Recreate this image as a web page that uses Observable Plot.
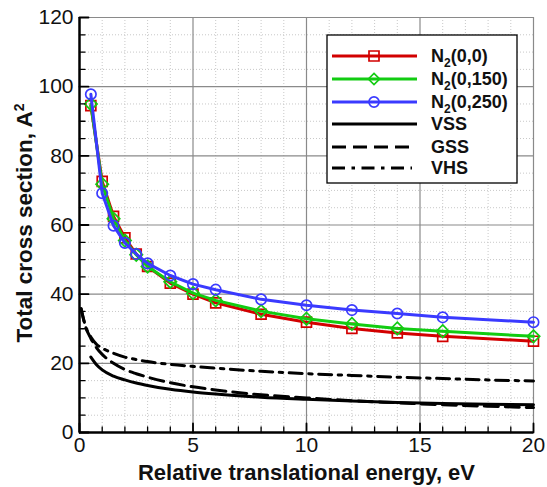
<!DOCTYPE html>
<html>
<head>
<meta charset="utf-8">
<script src="https://cdn.jsdelivr.net/npm/d3@7"></script>
<script src="https://cdn.jsdelivr.net/npm/@observablehq/plot@0.6"></script>
<style>
  body { margin: 0; background: #fff; }
  #wrap { position: relative; width: 547px; height: 487px; }
  #legend { position: absolute; left: 0; top: 0; pointer-events: none; }
</style>
</head>
<body>
<div id="wrap"></div>
<script>
// ---------------- data ----------------
const energyN2 = [0.5, 1, 1.5, 2, 2.5, 3, 4, 5, 6, 8, 10, 12, 14, 16, 20];
const sigmaN2_0_0   = [94.5, 72.6, 62.5, 56.3, 51.6, 48.0, 43.2, 40.0, 37.5, 34.2, 31.9, 30.1, 28.8, 27.8, 26.4];
const sigmaN2_0_150 = [95.0, 71.8, 61.8, 55.5, 51.4, 48.0, 43.6, 40.3, 38.2, 35.1, 32.9, 31.4, 30.1, 29.3, 27.8];
const sigmaN2_0_250 = [97.8, 69.2, 59.8, 54.8, 51.6, 48.9, 45.4, 42.9, 41.3, 38.5, 36.8, 35.4, 34.4, 33.3, 31.9];

const energyVSS = [0.5, 0.75, 1, 1.5, 2, 2.5, 3, 4, 5, 6, 8, 10, 12, 14, 16, 18, 20];
const sigmaVSS  = [21.8, 19.6, 18.1, 16.3, 15.2, 14.3, 13.6, 12.5, 11.7, 11.1, 10.2, 9.6, 9.1, 8.7, 8.4, 8.2, 8.0];

const energyGSS = [0.07, 0.2, 0.3, 0.5, 0.75, 1, 1.5, 2, 2.5, 3, 4, 5, 6, 8, 10, 12, 14, 16, 18, 20];
const sigmaGSS  = [35.8, 32.2, 30.0, 27.2, 24.5, 22.6, 20.0, 18.2, 17.0, 16.0, 14.4, 13.2, 12.3, 10.9, 10.0, 9.2, 8.6, 8.0, 7.6, 7.2];

const energyVHS = [0.07, 0.2, 0.3, 0.5, 0.75, 1, 1.5, 2, 2.5, 3, 4, 5, 6, 8, 10, 12, 14, 16, 18, 20];
const sigmaVHS  = [35.8, 32.2, 30.0, 27.6, 25.5, 24.4, 22.9, 21.8, 21.1, 20.5, 19.7, 19.1, 18.6, 17.7, 17.0, 16.5, 16.0, 15.6, 15.2, 14.9];

const xMajorTicks = [0, 5, 10, 15, 20];
const xMinorTicks = [1, 2, 3, 4, 6, 7, 8, 9, 11, 12, 13, 14, 16, 17, 18, 19];
const yMajorTicks = [0, 20, 40, 60, 80, 100, 120];
const yMinorTicks = [5, 10, 15, 25, 30, 35, 45, 50, 55, 65, 70, 75, 85, 90, 95, 105, 110, 115];

const xTitle = "Relative translational energy, eV";
const yTitle = "Total cross section, A";

const seriesNames = ["N2(0,0)", "N2(0,150)", "N2(0,250)", "VSS", "GSS", "VHS"];
const colRed = "#d20000", colGreen = "#12cc12", colBlue = "#3a3aff";

// ---------------- tables ----------------
const rows = (xs, ys) => xs.map((x, i) => ({x, y: ys[i]}));
const red = rows(energyN2, sigmaN2_0_0);
const green = rows(energyN2, sigmaN2_0_150);
const blue = rows(energyN2, sigmaN2_0_250);
const vss = rows(energyVSS, sigmaVSS);
const gss = rows(energyGSS, sigmaGSS);
const vhs = rows(energyVHS, sigmaVHS);

const font = "'Liberation Sans', Arial, Helvetica, sans-serif";

const plot = Plot.plot({
  width: 547,
  height: 487,
  marginLeft: 79,
  marginRight: 14,
  marginTop: 17,
  marginBottom: 55,
  style: {fontSize: "21px", fontFamily: font, background: "#fff", overflow: "visible"},
  x: {domain: [0, 20], label: null},
  y: {domain: [0, 120], label: null},
  marks: [
    // minor dotted grid
    Plot.ruleX(xMinorTicks, {x: d => d, stroke: "#c8c8c8", strokeWidth: 1, strokeDasharray: "1,2"}),
    Plot.ruleY(yMinorTicks, {y: d => d, stroke: "#c8c8c8", strokeWidth: 1, strokeDasharray: "1,2"}),
    // major grid
    Plot.ruleX(xMajorTicks.filter(d => d > 0), {x: d => d, stroke: "#8a8a8a", strokeWidth: 1.2}),
    Plot.ruleY(yMajorTicks.filter(d => d > 0), {y: d => d, stroke: "#8a8a8a", strokeWidth: 1.2}),
    // model curves
    Plot.line(vss, {x: "x", y: "y", stroke: "#000", strokeWidth: 3, curve: "monotone-x"}),
    Plot.line(gss, {x: "x", y: "y", stroke: "#000", strokeWidth: 3, curve: "monotone-x", strokeDasharray: "14,7"}),
    Plot.line(vhs, {x: "x", y: "y", stroke: "#000", strokeWidth: 3, curve: "monotone-x", strokeDasharray: "13,6.5,3.5,6.5"}),
    // N2 curves
    Plot.line(red, {x: "x", y: "y", stroke: colRed, strokeWidth: 3}),
    Plot.dot(red, {x: "x", y: "y", symbol: "square", r: 5.6, stroke: colRed, strokeWidth: 1.7, fill: "none"}),
    Plot.line(green, {x: "x", y: "y", stroke: colGreen, strokeWidth: 3}),
    Plot.dot(green, {x: "x", y: "y", symbol: "diamond2", r: 5.6, stroke: colGreen, strokeWidth: 1.7, fill: "none"}),
    Plot.line(blue, {x: "x", y: "y", stroke: colBlue, strokeWidth: 3}),
    Plot.dot(blue, {x: "x", y: "y", symbol: "circle", r: 5.2, stroke: colBlue, strokeWidth: 1.7, fill: "none"}),
    // axis lines
    Plot.ruleX([0], {x: d => d, stroke: "#000", strokeWidth: 2.5}),
    Plot.ruleY([0], {y: d => d, stroke: "#000", strokeWidth: 2.5}),
    // inward ticks
    Plot.vector(xMajorTicks, {x: d => d, y: () => 0, length: 9, rotate: 0, anchor: "start", r: 0, stroke: "#000", strokeWidth: 1.8}),
    Plot.vector(xMinorTicks, {x: d => d, y: () => 0, length: 5.5, rotate: 0, anchor: "start", r: 0, stroke: "#000", strokeWidth: 1.3}),
    Plot.vector(yMajorTicks, {y: d => d, x: () => 0, length: 9, rotate: 90, anchor: "start", r: 0, stroke: "#000", strokeWidth: 1.8}),
    Plot.vector(yMinorTicks, {y: d => d, x: () => 0, length: 5.5, rotate: 90, anchor: "start", r: 0, stroke: "#000", strokeWidth: 1.3}),
    // tick labels
    Plot.axisX({ticks: xMajorTicks, tickSize: 0, tickPadding: 5, tickFormat: d => String(d), label: null, fill: "#111"}),
    Plot.axisY({ticks: yMajorTicks, tickSize: 0, tickPadding: 6, tickFormat: d => String(d), label: null, fill: "#111"}),
    // axis titles
    Plot.text([xTitle], {text: d => d, frameAnchor: "bottom", dy: 40, lineAnchor: "middle", textAnchor: "middle", fontWeight: "bold", fontSize: 22, fill: "#111"}),
    Plot.text([yTitle], {text: d => d, frameAnchor: "left", dx: -55, dy: -2, rotate: -90, lineAnchor: "middle", textAnchor: "middle", fontWeight: "bold", fontSize: 22.5, fill: "#111", className: "ytitle"})
  ]
});

document.getElementById("wrap").appendChild(plot);

// superscript 2 on the y title
d3.select(plot).selectAll("g.ytitle text").each(function() {
  d3.select(this).append("tspan").attr("dy", "-0.55em").attr("font-size", "14px").text("2");
});

// ---------------- legend (overlay) ----------------
const legendSvg = d3.select("#wrap").append("svg")
  .attr("id", "legend").attr("width", 547).attr("height", 487);
const lg = legendSvg.append("g").attr("font-family", font);
lg.append("rect").attr("x", 327).attr("y", 35).attr("width", 190).attr("height", 148)
  .attr("fill", "#fff").attr("stroke", "#000").attr("stroke-width", 1.3);
const legendStyles = [
  {color: colRed, dash: null, sym: d3.symbolSquare, size: 100},
  {color: colGreen, dash: null, sym: d3.symbolDiamond2, size: 80},
  {color: colBlue, dash: null, sym: d3.symbolCircle, size: 80},
  {color: "#000", dash: null},
  {color: "#000", dash: "14,7"},
  {color: "#000", dash: "13,6.5,3.5,6.5"}
];
const legendY = [56, 79, 102, 124, 147, 168];
seriesNames.forEach((name, i) => {
  const s = legendStyles[i], y = legendY[i];
  lg.append("line").attr("x1", 332).attr("x2", i >= 4 ? 412 : 417).attr("y1", y).attr("y2", y)
    .attr("stroke", s.color).attr("stroke-width", 3).attr("stroke-dasharray", s.dash);
  if (s.sym) {
    lg.append("path").attr("d", d3.symbol(s.sym, s.size)()).attr("transform", `translate(374,${y})`)
      .attr("fill", "none").attr("stroke", s.color).attr("stroke-width", 1.7);
  }
  const t = lg.append("text").attr("x", 431).attr("y", y).attr("dy", "0.36em")
    .attr("font-size", 18).attr("font-weight", "bold").attr("fill", "#111");
  if (name.startsWith("N2")) {
    t.append("tspan").text("N");
    t.append("tspan").attr("font-size", 12).attr("dy", "0.35em").text("2");
    t.append("tspan").attr("dy", "-0.25em").text(name.slice(2));
  } else {
    t.text(name);
  }
});
</script>
</body>
</html>
